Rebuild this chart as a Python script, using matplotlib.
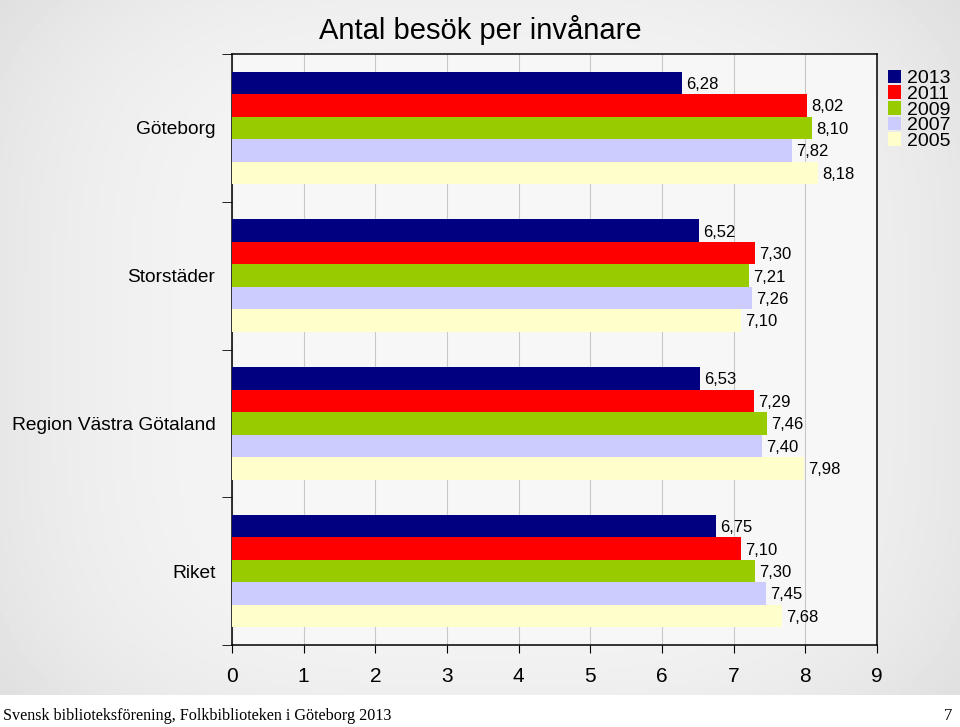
import numpy as np
import matplotlib.pyplot as plt

# data
categories = ["Göteborg", "Storstäder", "Region Västra Götaland", "Riket"]
years = ["2013", "2011", "2009", "2007", "2005"]
colors = ["#000080", "#ff0000", "#99cc00", "#ccccff", "#ffffcc"]
values = {
    "2013": [6.28, 6.52, 6.53, 6.75],
    "2011": [8.02, 7.30, 7.29, 7.10],
    "2009": [8.10, 7.21, 7.46, 7.30],
    "2007": [7.82, 7.26, 7.40, 7.45],
    "2005": [8.18, 7.10, 7.98, 7.68],
}

plt.rcParams['font.family'] = ['Liberation Sans', 'DejaVu Sans']

fig = plt.figure(figsize=(9.6, 7.27), dpi=100)
fig.patch.set_facecolor('white')

# gray gradient background behind the chart
bg = fig.add_axes([0, 32 / 727, 1, 1 - 32 / 727], zorder=-10)
gx = np.linspace(-1, 1, 300)
gy = np.linspace(-1, 1, 200)
GX, GY = np.meshgrid(gx, gy)
shade = 0.965 - 0.06 * (np.abs(GX) ** 3) - 0.03 * (np.abs(GY) ** 4)
bg.imshow(shade, cmap='gray', vmin=0, vmax=1, aspect='auto', extent=[0, 1, 0, 1])
bg.axis('off')

ax = fig.add_axes([232 / 960, 82 / 727, 645 / 960, 591 / 727])
ax.set_facecolor('#f7f7f7')

n = len(years)
bh = 0.152
pos = np.arange(len(categories))
for i, yr in enumerate(years):
    yy = pos - (n - 1) / 2 * bh + i * bh
    bars = ax.barh(yy, values[yr], height=bh, color=colors[i], label=yr, zorder=3)
    for b, v in zip(bars, values[yr]):
        ax.annotate(f"{v:.2f}".replace('.', ','), (v, b.get_y() + b.get_height() / 2),
                    xytext=(3, -1), textcoords='offset points', va='center', ha='left',
                    fontsize=12, zorder=4)

ax.set_xlim(0, 9)
ax.set_ylim(len(categories) - 0.5, -0.5)
ax.set_xticks(range(10))
ax.tick_params(axis='x', labelsize=15, direction='out', length=6, pad=10)
ax.set_yticks(pos)
ax.set_yticklabels(categories)
ax.set_yticks(np.arange(-0.5, len(categories), 1), minor=True)
ax.tick_params(axis='y', which='major', length=0, labelsize=13.8, pad=12)
ax.tick_params(axis='y', which='minor', length=7, direction='out')
ax.grid(axis='x', color='#c8c8c8', linewidth=0.8, zorder=0)
ax.set_axisbelow(True)
for s in ax.spines.values():
    s.set_linewidth(1.1)

fig.text(480 / 960, 1 - 30 / 727, "Antal besök per invånare", ha='center', va='center', fontsize=21)

fig.legend(loc='upper left', bbox_to_anchor=(880 / 960, 1 - 62 / 727), frameon=False,
           fontsize=14, handlelength=0.7, handleheight=0.7, handletextpad=0.3,
           labelspacing=-0.1, borderaxespad=0)

fig.text(3 / 960, 1 - 716 / 727, "Svensk biblioteksförening, Folkbiblioteken i Göteborg 2013",
         family=['Liberation Serif', 'DejaVu Serif'], fontsize=11.6, va='center', ha='left')
fig.text(952 / 960, 1 - 716 / 727, "7", family=['Liberation Serif', 'DejaVu Serif'],
         fontsize=12, va='center', ha='right')

fig.savefig('out.png', dpi=100, facecolor=fig.get_facecolor())
